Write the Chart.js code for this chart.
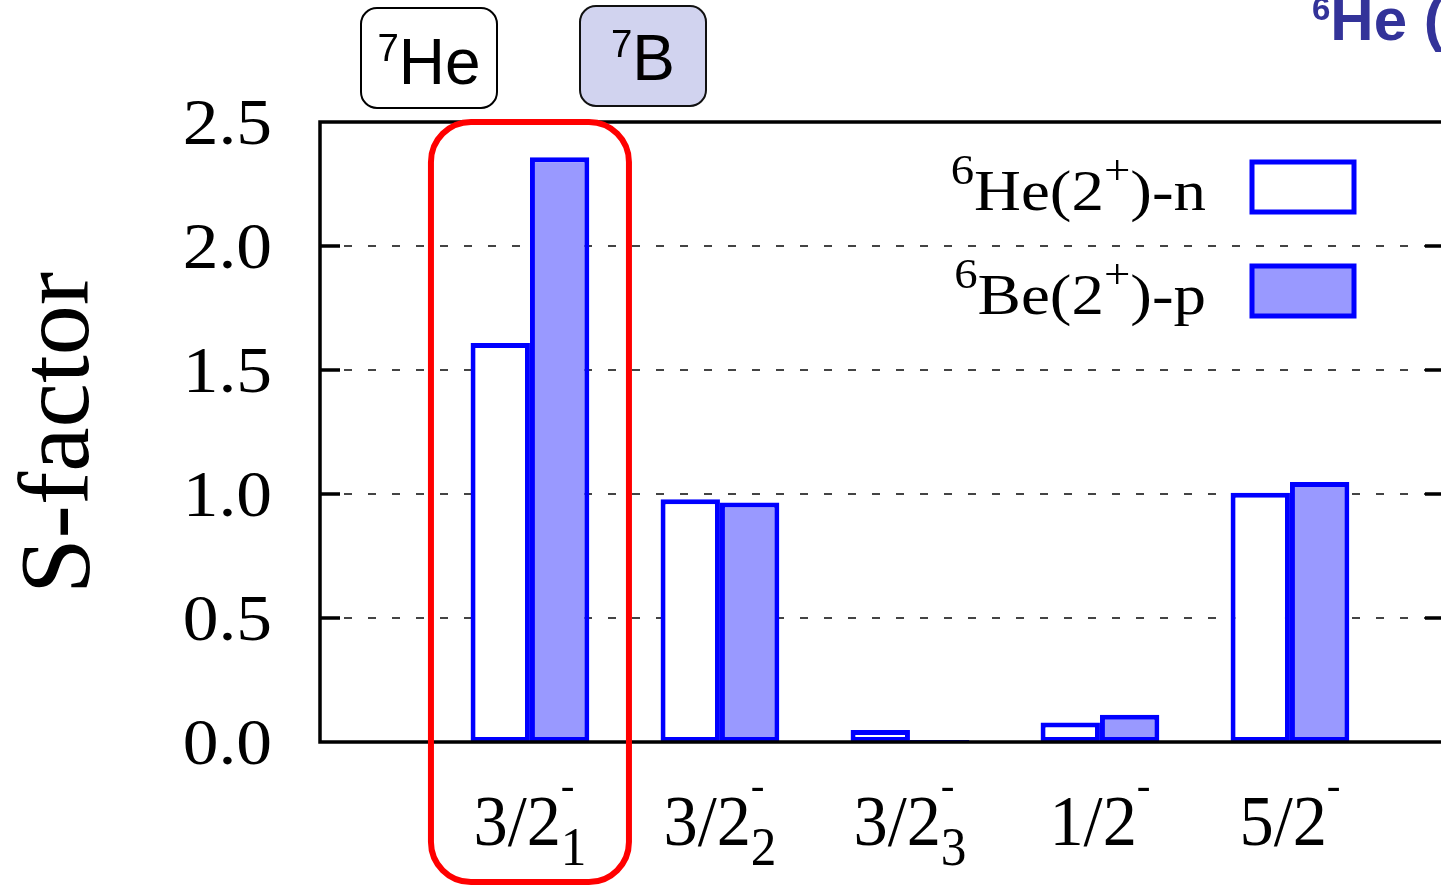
<!DOCTYPE html>
<html><head><meta charset="utf-8">
<script src="https://cdn.jsdelivr.net/npm/chart.js@4.4.0/dist/chart.umd.min.js"></script>
<style>html,body{margin:0;padding:0;background:#fff;overflow:hidden}#wrap{position:relative;width:1460px;height:885px}</style>
</head><body><div id="wrap"><canvas id="c" width="1460" height="885"></canvas></div>
<script>
// ---- data ----
const categories = ['3/2^{-}_{1}', '3/2^{-}_{2}', '3/2^{-}_{3}', '1/2^{-}', '5/2^{-}'];
const categoryIndex = [0, 1, 2, 3, 4];
const he6n = [1.609, 0.979, 0.048, 0.079, 1.005];
const be6p = [2.358, 0.966, 0.008, 0.110, 1.048];
const seriesLabels = ['^{6}He(2^{+})-n', '^{6}Be(2^{+})-p'];
const yTickValues = [0, 0.5, 1.0, 1.5, 2.0, 2.5];
const yTickLabels = ['0.0', '0.5', '1.0', '1.5', '2.0', '2.5'];
const yAxisTitle = 'S-factor';
const boxLabels = ['^{7}He', '^{7}B'];
const cornerLabel = '^{6}He (';

const SERIF = '"Liberation Serif", "Times New Roman", serif';
const SANS = '"Liberation Sans", Arial, sans-serif';
const BLUE = '#0000ff';
const FILL = '#9999ff';

function tokens(s) {
  const out = []; const re = /\^\{([^}]*)\}|_\{([^}]*)\}|([^\^_]+)/g; let m;
  while ((m = re.exec(s))) {
    if (m[1] !== undefined) out.push({ t: m[1], k: 'sup' });
    else if (m[2] !== undefined) out.push({ t: m[2], k: 'sub' });
    else out.push({ t: m[3], k: 'n' });
  }
  return out;
}
function layoutRich(ctx, s, o) {
  const tk = tokens(s); let x = 0; const items = [];
  for (let i = 0; i < tk.length; i++) {
    const a = tk[i];
    const fs = a.k === 'n' ? o.size : (a.k === 'sup' ? o.size * o.supScale : o.size * o.subScale);
    ctx.font = `${o.weight || 'normal'} ${fs}px ${o.family}`;
    const w = ctx.measureText(a.t).width;
    const dy = a.k === 'sup' ? -o.size * o.supRise : (a.k === 'sub' ? o.size * o.subDrop : 0);
    if (a.k !== 'n' && i > 0 && tk[i - 1].k !== 'n' && tk[i - 1].k !== a.k) {
      const prev = items[items.length - 1];
      const adv = Math.max(prev.w, w);
      items.push({ t: a.t, fs, x: prev.x, dy, w: adv });
      prev.w = adv; x = prev.x + adv; continue;
    }
    items.push({ t: a.t, fs, x, dy, w }); x += w;
  }
  return { items, width: x };
}
function drawRich(ctx, s, x, y, o) {
  o = Object.assign({ supScale: 0.7, subScale: 0.75, supRise: 0.45, subDrop: 0.28, sx: 1, align: 'left', color: '#000' }, o);
  const L = layoutRich(ctx, s, o);
  const w = L.width * o.sx;
  const sx0 = o.align === 'right' ? x - w : (o.align === 'center' ? x - w / 2 : x);
  ctx.save();
  ctx.translate(sx0, y); ctx.scale(o.sx, 1);
  ctx.fillStyle = o.color; ctx.textAlign = 'left'; ctx.textBaseline = 'alphabetic';
  for (const it of L.items) {
    ctx.font = `${o.weight || 'normal'} ${it.fs}px ${o.family}`;
    ctx.fillText(it.t, it.x, it.dy);
  }
  ctx.restore();
}
function rrect(ctx, x, y, w, h, r) {
  ctx.beginPath();
  ctx.moveTo(x + r, y); ctx.lineTo(x + w - r, y); ctx.arcTo(x + w, y, x + w, y + r, r);
  ctx.lineTo(x + w, y + h - r); ctx.arcTo(x + w, y + h, x + w - r, y + h, r);
  ctx.lineTo(x + r, y + h); ctx.arcTo(x, y + h, x, y + h - r, r);
  ctx.lineTo(x, y + r); ctx.arcTo(x, y, x + r, y, r); ctx.closePath();
}

const decor = {
  id: 'decor',
  beforeDatasetsDraw(chart) {
    const { ctx, chartArea: a, scales: { y } } = chart;
    ctx.save();
    ctx.strokeStyle = '#444'; ctx.lineWidth = 2; ctx.setLineDash([8, 16]);
    for (const v of yTickValues) {
      if (v <= y.min || v >= y.max) continue;
      const py = Math.round(y.getPixelForValue(v));
      ctx.beginPath(); ctx.moveTo(a.left + 24, py); ctx.lineTo(a.right - 20, py); ctx.stroke();
    }
    ctx.restore();
  },
  afterDatasetsDraw(chart) {
    const { ctx, chartArea: a, scales: { x, y } } = chart;
    ctx.save();
    ctx.strokeStyle = '#000'; ctx.lineWidth = 3.5; ctx.setLineDash([]);
    ctx.strokeRect(a.left, a.top, a.right - a.left, a.bottom - a.top);
    for (const v of yTickValues) {
      if (v <= y.min || v >= y.max) continue;
      const py = Math.round(y.getPixelForValue(v));
      ctx.beginPath(); ctx.moveTo(a.left, py); ctx.lineTo(a.left + 20, py);
      ctx.moveTo(a.right - 20, py); ctx.lineTo(a.right, py); ctx.stroke();
    }
    // red highlight box around the first category
    const x0 = x.getPixelForValue(categoryIndex[0]);
    ctx.strokeStyle = '#ff0000'; ctx.lineWidth = 6;
    rrect(ctx, x0 - 99, a.top, 198, 760, 40); ctx.stroke();
    ctx.restore();
  },
  afterDraw(chart) {
    const { ctx, chartArea: a, scales: { x, y } } = chart;
    ctx.save();
    // y tick labels
    yTickValues.forEach((v, i) => {
      const py = y.getPixelForValue(v);
      drawRich(ctx, yTickLabels[i], a.left - 48, py + 22, { size: 65, family: SERIF, sx: 1.1, align: 'right' });
    });
    // x category labels
    categories.forEach((c, i) => {
      const px = x.getPixelForValue(categoryIndex[i]);
      drawRich(ctx, c, px, a.bottom + 103, { size: 72, family: SERIF, sx: 0.95, align: 'center', supScale: 0.6, supRise: 0.64, subScale: 0.75, subDrop: 0.28 });
    });
    // y axis title
    ctx.save(); ctx.translate(88, 433); ctx.rotate(-Math.PI / 2);
    drawRich(ctx, yAxisTitle, 0, 0, { size: 100, family: SERIF, align: 'center' });
    ctx.restore();
    // legend
    const ds = chart.data.datasets;
    const legY = [210, 314];
    ds.forEach((d, i) => {
      drawRich(ctx, d.label, 1206, legY[i], { size: 58, family: SERIF, sx: 1.12, align: 'right', supScale: 0.72, supRise: 0.45 });
      ctx.fillStyle = d.backgroundColor; ctx.strokeStyle = d.borderColor; ctx.lineWidth = 5;
      ctx.fillRect(1252, legY[i] - 48, 102, 50);
      ctx.strokeRect(1252, legY[i] - 48, 102, 50);
    });
    // top boxes
    ctx.lineWidth = 2; ctx.strokeStyle = '#000';
    rrect(ctx, 361, 8, 136, 100, 16); ctx.fillStyle = '#ffffff'; ctx.fill(); ctx.stroke();
    drawRich(ctx, boxLabels[0], 429, 84, { size: 64, family: SANS, align: 'center', supScale: 0.6, supRise: 0.36 });
    ctx.lineWidth = 2; ctx.strokeStyle = '#111';
    rrect(ctx, 580, 6, 126, 100, 16); ctx.fillStyle = '#d1d3ef'; ctx.fill(); ctx.stroke();
    drawRich(ctx, boxLabels[1], 643, 80, { size: 64, family: SANS, align: 'center', supScale: 0.6, supRise: 0.36 });
    // corner label
    drawRich(ctx, cornerLabel, 1312, 40, { size: 60, family: SANS, weight: 'bold', color: '#333399', supScale: 0.55, supRise: 0.33 });
    ctx.restore();
  }
};

new Chart(document.getElementById('c'), {
  type: 'bar',
  data: {
    datasets: [
      { label: seriesLabels[0], data: categoryIndex.map((v, i) => ({ x: v, y: he6n[i] })), backgroundColor: '#ffffff', borderColor: BLUE, borderWidth: 5, borderSkipped: false, categoryPercentage: 0.625, barPercentage: 1.0 },
      { label: seriesLabels[1], data: categoryIndex.map((v, i) => ({ x: v, y: be6p[i] })), backgroundColor: FILL, borderColor: BLUE, borderWidth: 5, borderSkipped: false, categoryPercentage: 0.625, barPercentage: 1.0 }
    ]
  },
  options: {
    responsive: false, animation: false, devicePixelRatio: 1,
    layout: { padding: { left: 320, right: 15, top: 122, bottom: 143 } },
    plugins: { legend: { display: false }, tooltip: { enabled: false } },
    scales: {
      x: { type: 'linear', min: -1.105, max: 4.816, offset: false, grace: 0, display: false,
           afterBuildTicks: s => { s.ticks = categoryIndex.map(v => ({ value: v })); } },
      y: { type: 'linear', min: 0, max: 2.5, display: false,
           afterBuildTicks: s => { s.ticks = yTickValues.map(v => ({ value: v })); } }
    }
  },
  plugins: [decor]
});
</script></body></html>
